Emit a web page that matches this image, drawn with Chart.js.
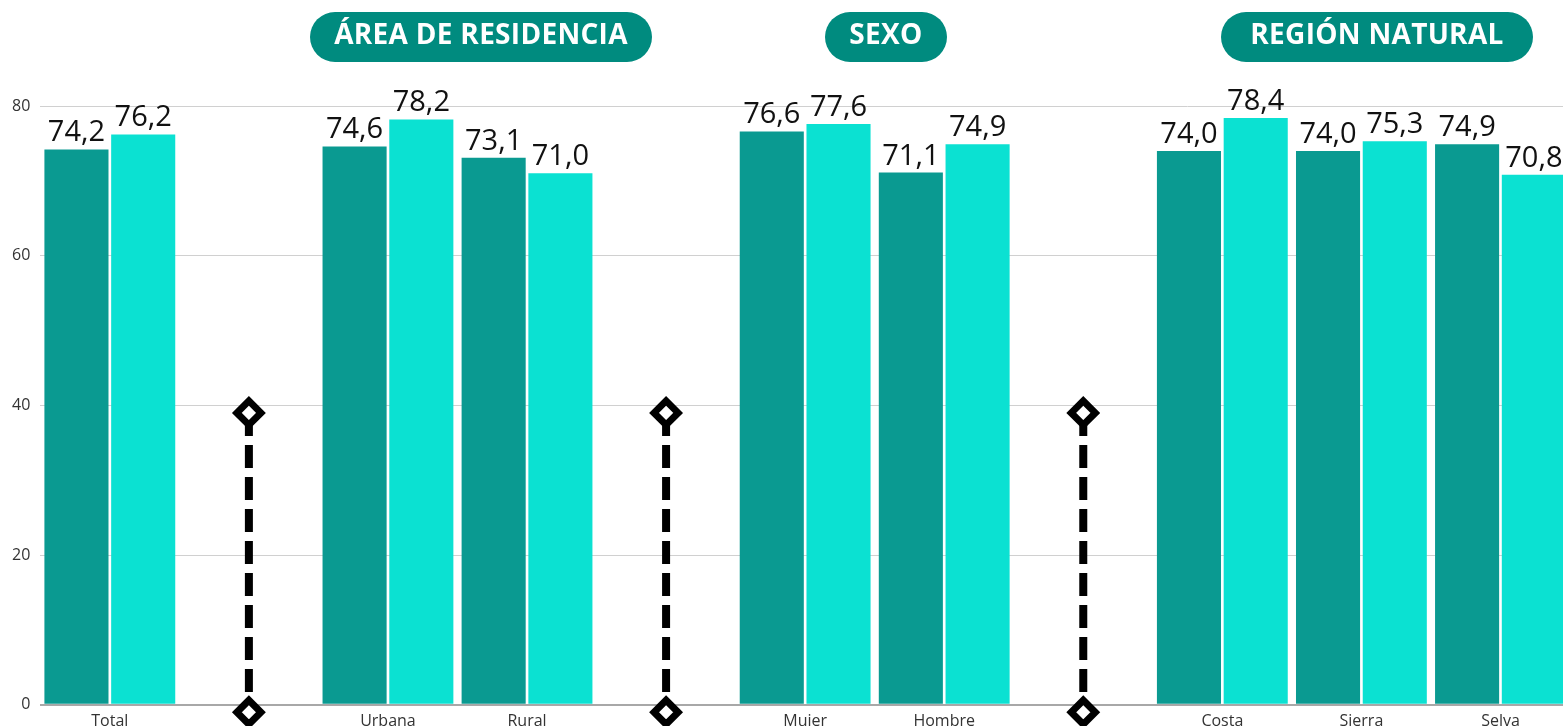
<!DOCTYPE html>
<html lang="es">
<head>
<meta charset="utf-8">
<title>Indicador por área, sexo y región</title>
<script src="https://cdn.jsdelivr.net/npm/chart.js@4.4.1/dist/chart.umd.min.js"></script>
<style>
  html, body { margin: 0; padding: 0; background: #fff; }
  .wrap { position: relative; width: 1563px; height: 726px; overflow: hidden; }
  #chart { position: absolute; left: 0; top: 0; }
  .badge {
    position: absolute; top: 12px; height: 50px; line-height: 42px;
    border-radius: 25px; background: #008b7f; color: #fff;
    font-family: "Open Sans", sans-serif; font-weight: 700; font-size: 28px;
    text-align: center; letter-spacing: 0.3px;
  }
</style>
</head>
<body>
<div class="wrap">
  <canvas id="chart" width="1570" height="726"></canvas>
  <div class="badge" style="left:310px;width:342px;">ÁREA DE RESIDENCIA</div>
  <div class="badge" style="left:825px;width:122px;">SEXO</div>
  <div class="badge" style="left:1221px;width:312px;">REGIÓN NATURAL</div>
</div>
<script>
// categories; the blank slots (distinct blank strings) hold the dashed separators
const categories = ["Total", "", "Urbana", "Rural", " ", "Mujer", "Hombre", "  ", "Costa", "Sierra", "Selva"];
const seriesA = [74.2, null, 74.6, 73.1, null, 76.6, 71.1, null, 74.0, 74.0, 74.9];
const seriesB = [76.2, null, 78.2, 71.0, null, 77.6, 74.9, null, 78.4, 75.3, 70.8];
const yTicks = [0, 20, 40, 60, 80];
// separators: which blank category, and top / bottom values of the dashed line
const separatorSlots = ["", " ", "  "];
const separatorTop = 39;
const separatorBottom = -1;

const darkTeal = "#0a9a91";
const lightTeal = "#0be1d2";

const separatorSets = separatorSlots.map(function (slot) {
  return {
    type: "line",
    data: [{ x: slot, y: separatorTop }, { x: slot, y: separatorBottom }],
    borderColor: "#000",
    borderWidth: 8,
    borderDash: [23, 9],
    pointStyle: "rectRot",
    pointRadius: 12,
    pointBorderWidth: 7,
    pointBackgroundColor: "#fff",
    pointBorderColor: "#000",
    clip: false,
    order: 0,
  };
});

// value labels above bars, comma decimal
const barLabels = {
  id: "barLabels",
  afterDatasetsDraw(chart) {
    const ctx = chart.ctx;
    ctx.save();
    ctx.font = "29px 'Open Sans', sans-serif";
    ctx.fillStyle = "#111";
    ctx.textAlign = "center";
    ctx.textBaseline = "alphabetic";
    [0, 1].forEach(function (di) {
      const meta = chart.getDatasetMeta(di);
      meta.data.forEach(function (bar, i) {
        const v = chart.data.datasets[di].data[i];
        if (v == null) return;
        ctx.fillText(v.toFixed(1).replace(".", ","), bar.x, bar.y - 8);
      });
    });
    ctx.restore();
  },
};

const ctx = document.getElementById("chart").getContext("2d");
new Chart(ctx, {
  type: "bar",
  data: {
    labels: categories,
    datasets: [
      {
        data: seriesA,
        backgroundColor: darkTeal,
        categoryPercentage: 0.96,
        barPercentage: 0.96,
        stack: "a",
        order: 1,
      },
      {
        data: seriesB,
        backgroundColor: lightTeal,
        categoryPercentage: 0.96,
        barPercentage: 0.96,
        stack: "b",
        order: 1,
      },
    ].concat(separatorSets),
  },
  options: {
    responsive: false,
    animation: false,
    layout: { autoPadding: false, padding: { top: 106, left: 2, right: 0, bottom: -12 } },
    plugins: {
      legend: { display: false },
      tooltip: { enabled: false },
      title: { display: false },
    },
    scales: {
      x: {
        grid: { display: false, drawTicks: false },
        border: { display: false },
        ticks: {
          padding: 7,
          color: "#333",
          font: { family: "Open Sans", size: 16 },
          maxRotation: 0,
        },
      },
      y: {
        min: 0,
        max: 80,
        afterBuildTicks: function (axis) {
          axis.ticks = yTicks.map(function (v) { return { value: v }; });
        },
        grid: {
          drawTicks: false,
          color: function (c) { return c.tick && c.tick.value === 0 ? "#a8a8a8" : "#d0d0d0"; },
          lineWidth: function (c) { return c.tick && c.tick.value === 0 ? 2 : 1; },
        },
        border: { display: false },
        ticks: {
          padding: 10,
          color: "#333",
          font: { family: "Open Sans", size: 16 },
        },
      },
    },
  },
  plugins: [barLabels],
});
</script>
</body>
</html>
